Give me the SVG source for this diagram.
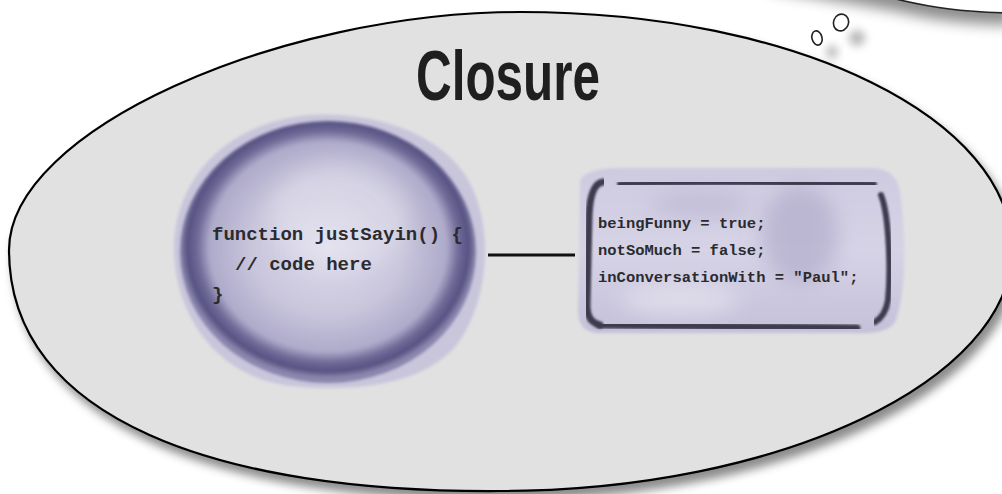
<svg xmlns="http://www.w3.org/2000/svg" width="1002" height="494" viewBox="0 0 1002 494">
  <defs>
    <filter id="shadow" x="-10%" y="-10%" width="120%" height="130%">
      <feDropShadow dx="5" dy="8" stdDeviation="5" flood-color="#000" flood-opacity="0.45"/>
    </filter>
    <filter id="bubbleShadow" x="-50%" y="-50%" width="200%" height="300%">
      <feDropShadow dx="0" dy="12" stdDeviation="7" flood-color="#000" flood-opacity="0.45"/>
    </filter>
    <filter id="blurBig" x="-50%" y="-50%" width="200%" height="200%">
      <feGaussianBlur stdDeviation="4"/>
    </filter>
    <filter id="soft1" x="-10%" y="-10%" width="120%" height="120%">
      <feGaussianBlur stdDeviation="1.5"/>
    </filter>
    <filter id="soft2" x="-10%" y="-10%" width="120%" height="120%">
      <feGaussianBlur stdDeviation="1.8"/>
    </filter>
    <filter id="smudge" x="-50%" y="-50%" width="200%" height="200%">
      <feGaussianBlur stdDeviation="10"/>
    </filter>
    <filter id="ink" x="-5%" y="-20%" width="110%" height="140%">
      <feGaussianBlur stdDeviation="0.8"/>
    </filter>
    <radialGradient id="ringGrad" cx="50%" cy="48%" r="50%">
      <stop offset="0" stop-color="#dcdaea"/>
      <stop offset="0.5" stop-color="#cac7dd"/>
      <stop offset="0.8" stop-color="#aeaaca"/>
      <stop offset="0.88" stop-color="#716c99"/>
      <stop offset="0.95" stop-color="#575282"/>
      <stop offset="1" stop-color="#8a86ad"/>
    </radialGradient>
    <linearGradient id="boxGrad" x1="0" y1="0" x2="0" y2="1">
      <stop offset="0" stop-color="#cecae0"/>
      <stop offset="0.5" stop-color="#d6d3e6"/>
      <stop offset="1" stop-color="#c4c0d9"/>
    </linearGradient>
    <style>
      .code { font-family: "Liberation Mono", "DejaVu Sans Mono", monospace; font-weight: bold; fill: #2b2b2e; }
      .big { font-size: 19px; }
      .small { font-size: 15.5px; }
      .title { font-family: "Liberation Sans", "DejaVu Sans", sans-serif; font-weight: bold; font-size: 70px; fill: #1f1f1f; }
      .dark { fill: none; stroke: #3c3a4e; stroke-linecap: round; stroke-linejoin: round; }
      .bubble { fill: #ffffff; stroke: #222222; stroke-width: 1.6; }
    </style>
  </defs>

  <rect width="1002" height="494" fill="#ffffff"/>

  <!-- thought bubble (top right) -->
  <g id="thought-bubble">
    <path d="M 770,-60 L 770,-22 C 830,-12 870,-6 900,0 C 930,7 960,12 1012,13 L 1012,-60 Z" fill="#ffffff" filter="url(#bubbleShadow)"/>
    <path d="M 880,-5 C 888,-3 896,-1 900,0 C 930,7 960,12 1012,13" fill="none" stroke="#222" stroke-width="1.6"/>
    <ellipse cx="832" cy="52" rx="6" ry="7" fill="#888" opacity="0.55" filter="url(#blurBig)"/>
    <ellipse cx="857" cy="38" rx="8" ry="8" fill="#888" opacity="0.6" filter="url(#blurBig)"/>
    <ellipse class="bubble" cx="817" cy="38" rx="5" ry="7.2" transform="rotate(-15 817 38)"/>
    <ellipse class="bubble" cx="841" cy="22.5" rx="7.5" ry="8.5" transform="rotate(20 841 22.5)"/>
  </g>

  <!-- closure ellipse -->
  <g id="closure">
    <path d="M 9,250 C 9,130 280,12 520,12 C 800,12 1012,120 1012,250 C 1012,380 780,491 500,491 C 220,493 9,420 9,250 Z" fill="#e1e1e1" stroke="#000" stroke-width="2.2" filter="url(#shadow)"/>
    <text class="title" x="416" y="100" textLength="184" lengthAdjust="spacingAndGlyphs">Closure</text>
  </g>

  <!-- connectors -->
  <g id="connectors">
    <line x1="488" y1="255" x2="575" y2="255" stroke="#111" stroke-width="3"/>
  </g>

  <!-- function node -->
  <g id="node-function">
    <path d="M 174,255 C 171,190 215,128 300,116 C 362,109 440,128 470,183 C 494,230 489,302 456,346 C 420,387 350,392 290,386 C 220,377 178,322 174,255 Z" fill="#c9c6dc" filter="url(#soft2)"/>
    <ellipse cx="328" cy="252" rx="148" ry="131" fill="url(#ringGrad)" filter="url(#soft1)"/>
    <ellipse cx="340" cy="215" rx="70" ry="55" fill="#ffffff" opacity="0.22" filter="url(#smudge)"/>
    <text class="code big" x="212" y="240">function justSayin() {</text>
    <text class="code big" x="235" y="270">// code here</text>
    <text class="code big" x="212" y="300">}</text>
  </g>

  <!-- variables node -->
  <g id="node-variables">
    <path d="M 580,185 C 578,174 595,168 620,168 L 870,168 C 892,168 900,180 901,200 C 906,240 906,290 896,320 C 890,333 870,334 850,333 L 600,333 C 585,333 578,325 578,310 Z" fill="url(#boxGrad)" filter="url(#soft1)"/>
    <ellipse cx="800" cy="235" rx="38" ry="48" fill="#a7a2c4" opacity="0.55" filter="url(#smudge)"/>
    <ellipse cx="700" cy="205" rx="50" ry="14" fill="#b5b1cf" opacity="0.5" filter="url(#smudge)"/>
    <ellipse cx="680" cy="300" rx="60" ry="16" fill="#ffffff" opacity="0.35" filter="url(#smudge)"/>
    <path class="dark" d="M 620,184 C 700,181 800,183 874,184" stroke-width="6" filter="url(#ink)"/>
    <path class="dark" d="M 603,182 C 594,183 590,195 589,215 L 587,305 C 587,318 592,323 600,325" stroke-width="7" filter="url(#ink)"/>
    <path class="dark" d="M 600,325 C 700,326 800,327 857,328" stroke-width="7" filter="url(#ink)"/>
    <path class="dark" d="M 881,195 C 889,215 891,270 888,300 C 886,312 882,318 875,322" stroke-width="6" filter="url(#ink)"/>
    <text class="code small" x="598" y="228">beingFunny = true;</text>
    <text class="code small" x="598" y="255">notSoMuch = false;</text>
    <text class="code small" x="598" y="282">inConversationWith = "Paul";</text>
  </g>
</svg>
